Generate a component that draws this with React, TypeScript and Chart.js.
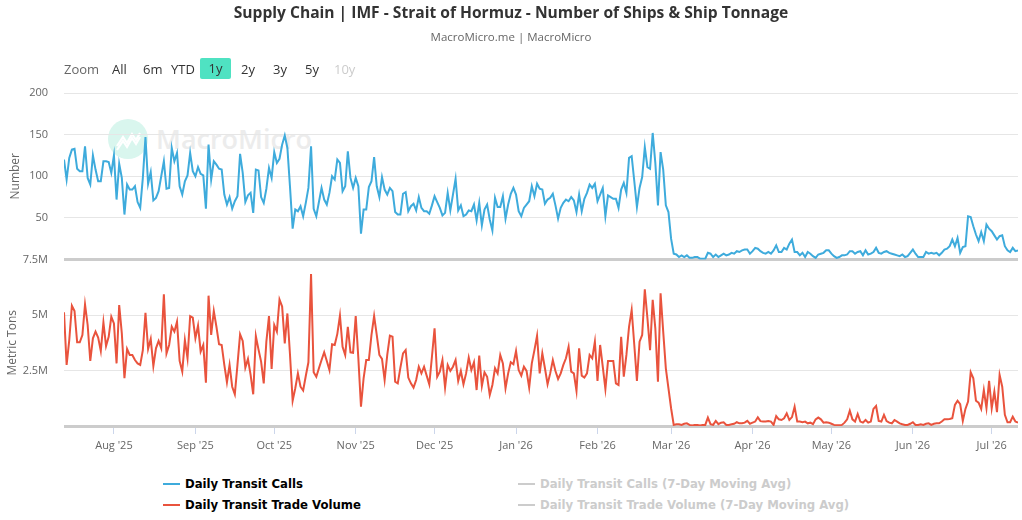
import { useEffect, useRef } from "react";
import { Chart, registerables } from "chart.js";

Chart.register(...registerables);

const START_DATE = "2025-07-13";

const monthStarts = [
  "2025-08-01", "2025-09-01", "2025-10-01", "2025-11-01", "2025-12-01", "2026-01-01",
  "2026-02-01", "2026-03-01", "2026-04-01", "2026-05-01", "2026-06-01", "2026-07-01",
];
const monthLabels = [
  "Aug '25", "Sep '25", "Oct '25", "Nov '25", "Dec '25", "Jan '26",
  "Feb '26", "Mar '26", "Apr '26", "May '26", "Jun '26", "Jul '26",
];

const callsTicks = [0, 50, 100, 150, 200];
const tonsTicks = [0, 2.5, 5, 7.5];

// Daily Transit Calls (number of ships), one value per day from START_DATE
const transitCalls = [
  120, 96, 122, 132, 133, 109, 106, 106, 136, 98,
  90, 125, 108, 94, 94, 118, 118, 117, 104, 125,
  72, 115, 98, 54, 90, 84, 84, 88, 69, 62,
  98, 147, 91, 105, 71, 74, 82, 100, 118, 85,
  86, 134, 118, 128, 88, 78, 94, 101, 128, 106,
  100, 111, 103, 101, 61, 138, 96, 118, 114, 109,
  108, 78, 66, 75, 61, 70, 76, 127, 104, 69,
  77, 80, 56, 108, 107, 75, 68, 85, 110, 98,
  129, 116, 121, 138, 149, 134, 87, 37, 60, 58,
  64, 52, 68, 86, 136, 61, 52, 69, 86, 72,
  66, 80, 100, 96, 120, 116, 82, 88, 130, 98,
  86, 98, 88,
  31, 60, 60, 87, 94, 123, 88, 75, 99, 84,
  78, 86, 82, 57, 54, 54, 79, 81, 58, 64,
  67, 59, 75, 62, 58, 58, 55, 65, 76, 69,
  62, 53, 56, 80, 59, 78, 97, 59, 65, 52,
  54, 59, 58, 66, 47, 68, 41, 60, 66, 48,
  35, 74, 63, 63, 76, 49, 66, 79, 86, 78,
  58, 52, 62, 66, 70, 88, 76, 91, 85, 84,
  67, 72, 74, 79, 65, 49, 62, 68, 72, 70,
  75, 71, 57, 78, 58, 73, 80, 90, 86, 91,
  70, 78, 86, 52, 77, 75, 73, 73, 62, 84,
  92, 80, 122, 124, 94, 63, 86, 99, 135, 111,
  109, 152, 116, 65, 129, 108, 65, 57, 25, 7,
  6, 3, 5, 3, 5, 2, 2, 3, 3, 1,
  1, 1, 8, 7, 3, 6, 3, 5,
  7, 5, 6, 8, 7, 10, 9, 11, 12, 12,
  7, 10, 14, 13, 10, 8, 7, 9, 7, 11,
  17, 9, 9, 14, 12, 19, 24, 9, 9, 5,
  8, 3, 9, 7, 4, 2, 6, 7, 8,
  11, 11, 7, 4, 2, 3, 5, 5, 6, 10,
  10, 7, 9, 10, 5, 11, 6, 7, 9, 14,
  8, 7, 9, 10, 8, 7, 6, 5, 4, 6,
  3, 4, 8, 12, 7, 3, 3, 3, 9, 7,
  8, 7, 8, 5, 8, 12, 13, 16, 24, 16,
  26, 8, 15, 16, 52, 51, 40, 30, 22, 33,
  22, 42, 37, 34, 29, 24, 28, 29, 16, 11,
  9, 14, 10, 11,
];

// Daily Transit Trade Volume, in millions of metric tons
const tradeVolumeM = [
  5.12, 2.75, 3.87, 5.42, 5.18, 3.77, 3.77, 4.1, 5.48, 4.55,
  2.93, 3.95, 4.25, 3.98, 3.38, 4.67, 3.6, 4.02, 4.92, 4.62,
  2.82, 5.45, 4.17, 2.15, 3.47, 3.2, 3.2, 2.97, 2.82, 2.75,
  3.42, 5.1, 3.47, 3.92, 2.7, 3.5, 3.83, 3.5, 5.93, 3.27,
  3.65, 4.47, 4.25, 4.7, 2.93, 2.45, 3.87, 3.05, 4.95, 4.88,
  3.95, 4.52, 3.35, 3.65, 1.95, 5.87, 4.1, 5.18, 4.47, 3.68,
  3.65, 2.75, 1.97, 2.75, 1.77, 1.43, 2.75, 4.13, 3.83, 2.63,
  3.02, 2.3, 1.43, 4.05, 3.45, 2.9, 1.92, 3.8, 4.95, 2.57,
  4.55, 4.25, 5.7, 5.38, 3.72, 5.07, 3.2, 1.14, 1.7, 2.37,
  1.77, 1.6, 2.25, 2.87, 6.85, 2.42, 2.22, 2.6, 2.97, 3.32,
  2.93, 2.52, 3.68, 3.65, 4.15, 4.97, 3.57, 3.2, 4.47, 3.32,
  3.3, 4.95, 3.05,
  0.87, 2.15, 2.97, 2.97, 4.1, 4.95, 4.1, 3.2, 3.02, 2.07,
  3.2, 4.07, 4.02, 2.0, 1.92, 2.63, 3.27, 3.42, 2.18, 1.92,
  1.73, 2.07, 2.67, 2.37, 2.67, 2.27, 1.88, 3.12, 4.4, 2.22,
  2.45, 2.97, 1.73, 2.75, 2.48, 2.67, 2.97, 2.03, 2.48, 1.88,
  2.37, 3.08, 2.52, 2.87, 1.62, 3.17, 1.8, 2.42, 2.22, 1.4,
  1.85, 2.6, 2.37, 3.2, 2.82, 1.7, 2.37, 2.87, 2.78, 3.38,
  2.52, 2.27, 2.67, 2.48, 1.73, 2.82, 3.42, 4.07, 2.37, 3.27,
  2.6, 1.88, 2.37, 2.97, 2.48, 2.12, 2.37, 2.75, 3.05, 3.57,
  2.45, 2.37, 1.58, 3.5, 2.27, 2.18, 2.37, 3.2, 3.05, 3.8,
  2.03, 3.65, 2.67, 1.67, 2.93, 2.93, 2.93, 1.92, 1.85, 4.02,
  2.22, 3.2, 4.47, 5.23, 3.65, 2.03, 3.8, 4.1, 6.16, 4.85,
  3.42, 5.68, 4.4, 2.0, 5.98, 4.25, 2.6, 1.7, 0.8, 0.05,
  0.08, 0.08, 0.05, 0.1, 0.12, 0.05, 0.02, 0.05, 0.05, 0.02,
  0.05, 0.05, 0.38, 0.08, 0.05, 0.23, 0.08, 0.15,
  0.17, 0.05, 0.05, 0.08, 0.1, 0.17, 0.12, 0.12, 0.15, 0.23,
  0.1, 0.15, 0.2, 0.39, 0.22, 0.2, 0.2, 0.22, 0.2, 0.05,
  0.45, 0.3, 0.27, 0.35, 0.57, 0.27, 0.4, 0.87, 0.2, 0.2,
  0.17, 0.2, 0.12, 0.15, 0.08, 0.3, 0.38, 0.3, 0.15,
  0.17, 0.15, 0.1, 0.05, 0.03, 0.03, 0.05, 0.15, 0.3, 0.69,
  0.3, 0.2, 0.54, 0.2, 0.15, 0.27, 0.15, 0.2, 0.77, 0.9,
  0.23, 0.2, 0.5, 0.22, 0.15, 0.12, 0.27, 0.2, 0.12, 0.08,
  0.05, 0.05, 0.1, 0.17, 0.05, 0.05, 0.08, 0.05, 0.1, 0.12,
  0.05, 0.1, 0.12, 0.12, 0.2, 0.3, 0.3, 0.32, 0.35, 0.95,
  1.14, 0.98, 0.23, 0.77, 1.1, 2.42, 2.15, 1.14, 1.05, 0.77,
  1.62, 0.8, 2.03, 0.8, 1.55, 0.62, 2.3, 1.77, 0.5, 0.17,
  0.17, 0.42, 0.2, 0.15,
];

const seriesNames = [
  "Daily Transit Calls",
  "Daily Transit Trade Volume",
  "Daily Transit Calls (7-Day Moving Avg)",
  "Daily Transit Trade Volume (7-Day Moving Avg)",
];

const BLUE = "#3eabdc";
const RED = "#e9533d";
const FONT = "'Open Sans', 'Noto Sans', sans-serif";

const DAY = 86400000;
const startMs = Date.parse(START_DATE);
const monthIdx = monthStarts.map((d) => Math.round((Date.parse(d) - startMs) / DAY));

export default function App() {
  const canvasRef = useRef<HTMLCanvasElement | null>(null);

  useEffect(() => {
    if (!canvasRef.current) return;
    const n = Math.max(transitCalls.length, tradeVolumeM.length);
    const chart = new Chart(canvasRef.current, {
      type: "line",
      data: {
        datasets: [
          {
            label: seriesNames[0],
            data: transitCalls.map((v, i) => ({ x: i, y: v })),
            borderColor: BLUE,
            backgroundColor: BLUE,
            borderWidth: 2,
            pointRadius: 0,
            tension: 0,
            yAxisID: "y",
          },
          {
            label: seriesNames[1],
            data: tradeVolumeM.map((v, i) => ({ x: i, y: v })),
            borderColor: RED,
            backgroundColor: RED,
            borderWidth: 2,
            pointRadius: 0,
            tension: 0,
            yAxisID: "y2",
          },
        ],
      },
      options: {
        animation: false,
        responsive: true,
        maintainAspectRatio: false,
        layout: { padding: { top: 93, right: 4, bottom: 8, left: 0 } },
        plugins: { legend: { display: false }, tooltip: { enabled: false } },
        scales: {
          x: {
            type: "linear",
            min: 0,
            max: n - 1,
            grid: { drawOnChartArea: false, drawTicks: true, tickLength: 8, color: "#ccd6eb" },
            border: { display: false },
            ticks: {
              autoSkip: false,
              maxRotation: 0,
              padding: 5,
              color: "#666666",
              font: { size: 11, family: FONT },
              callback: (_v: any, i: number) => monthLabels[i] ?? "",
            },
            afterBuildTicks: (s: any) => {
              s.ticks = monthIdx.map((v) => ({ value: v }));
            },
            afterFit: (s: any) => {
              s.height = 36;
            },
          },
          y: {
            type: "linear",
            position: "left",
            stack: "panes",
            stackWeight: 1,
            weight: 1,
            min: callsTicks[0],
            max: callsTicks[callsTicks.length - 1],
            afterBuildTicks: (s: any) => {
              s.ticks = callsTicks.map((v) => ({ value: v }));
            },
            ticks: {
              padding: 16,
              color: "#666666",
              font: { size: 11, family: FONT },
              callback: (v: any) => (v === 0 ? "" : String(v)),
            },
            grid: {
              drawTicks: false,
              color: (c: any) => (c.tick && c.tick.value === 0 ? "#cccccc" : "#e6e6e6"),
              lineWidth: (c: any) => (c.tick && c.tick.value === 0 ? 3 : 1),
            },
            border: { display: false },
            title: {
              display: true,
              text: "Number",
              color: "#666666",
              font: { size: 12, family: FONT },
              padding: { top: 8, bottom: 0 },
            },
            afterFit: (s: any) => {
              s.width = 64;
            },
          },
          y2: {
            type: "linear",
            position: "left",
            stack: "panes",
            stackWeight: 1,
            weight: 0,
            min: tonsTicks[0],
            max: tonsTicks[tonsTicks.length - 1],
            afterBuildTicks: (s: any) => {
              s.ticks = tonsTicks.map((v) => ({ value: v }));
            },
            ticks: {
              padding: 16,
              color: "#666666",
              font: { size: 11, family: FONT },
              callback: (v: any) => (v === 0 ? "" : `${v}M`),
            },
            grid: {
              drawTicks: false,
              color: (c: any) => {
                const v = c.tick && c.tick.value;
                if (v === 0) return "#cccccc";
                if (v === tonsTicks[tonsTicks.length - 1]) return "rgba(0,0,0,0)";
                return "#e6e6e6";
              },
              lineWidth: (c: any) => (c.tick && c.tick.value === 0 ? 3 : 1),
            },
            border: { display: false },
            title: {
              display: true,
              text: "Metric Tons",
              color: "#666666",
              font: { size: 12, family: FONT },
              padding: { top: 5, bottom: 0 },
            },
            afterFit: (s: any) => {
              s.width = 64;
            },
          },
        } as any,
      },
    });
    return () => chart.destroy();
  }, []);

  const rangeItems: { t: string; x: number; c: string }[] = [
    { t: "Zoom", x: 64, c: "#666666" },
    { t: "All", x: 112, c: "#333333" },
    { t: "6m", x: 143, c: "#333333" },
    { t: "YTD", x: 171, c: "#333333" },
    { t: "2y", x: 241, c: "#333333" },
    { t: "3y", x: 273, c: "#333333" },
    { t: "5y", x: 305, c: "#333333" },
    { t: "10y", x: 334, c: "#cccccc" },
  ];

  const legendFont = "'DejaVu Sans Condensed', 'Liberation Sans Narrow', sans-serif";
  const legendItems = [
    { t: seriesNames[0], x: 163, y: 484, c: BLUE, tc: "#000000" },
    { t: seriesNames[1], x: 163, y: 505, c: RED, tc: "#000000" },
    { t: seriesNames[2], x: 518, y: 484, c: "#cccccc", tc: "#cccccc" },
    { t: seriesNames[3], x: 518, y: 505, c: "#cccccc", tc: "#cccccc" },
  ];

  return (
    <div
      style={{
        position: "fixed",
        left: 0,
        top: 0,
        width: 1022,
        height: 520,
        background: "#ffffff",
        fontFamily: FONT,
        overflow: "hidden",
      }}
    >
      {/* watermark */}
      <div style={{ position: "absolute", left: 108, top: 119, width: 40, height: 40, borderRadius: 20, background: "#d9f6ee" }}>
        <svg width="40" height="40" viewBox="0 0 40 40">
          <polyline points="9,27 15,18 19,24 24,15 28,21 32,14" fill="none" stroke="#ffffff" strokeWidth="2.2" />
          <polyline points="9,31 15,22 19,28 24,19 28,25 32,18" fill="none" stroke="#ffffff" strokeWidth="2.2" />
        </svg>
      </div>
      <div
        style={{
          position: "absolute",
          left: 156,
          top: 120,
          fontSize: 27,
          fontWeight: 600,
          color: "#ececec",
          lineHeight: "38px",
          whiteSpace: "nowrap",
        }}
      >
        MacroMicro
      </div>

      <div style={{ position: "absolute", left: 0, top: 0, width: 1022, height: 470 }}>
        <canvas ref={canvasRef} />
      </div>

      <div
        style={{
          position: "absolute",
          left: 0,
          top: 2,
          width: 1022,
          textAlign: "center",
          fontSize: 15.6,
          fontWeight: 700,
          color: "#333333",
          lineHeight: "20px",
          whiteSpace: "nowrap",
        }}
      >
        Supply Chain | IMF - Strait of Hormuz - Number of Ships &amp; Ship Tonnage
      </div>
      <div
        style={{
          position: "absolute",
          left: 0,
          top: 29,
          width: 1022,
          textAlign: "center",
          fontSize: 11.5,
          color: "#666666",
          lineHeight: "16px",
          whiteSpace: "nowrap",
        }}
      >
        MacroMicro.me | MacroMicro
      </div>

      {rangeItems.map((r) => (
        <div
          key={r.t}
          style={{ position: "absolute", left: r.x, top: 60, fontSize: 13, lineHeight: "18px", color: r.c, whiteSpace: "nowrap" }}
        >
          {r.t}
        </div>
      ))}
      <div
        style={{
          position: "absolute",
          left: 200,
          top: 58,
          width: 31,
          height: 21,
          background: "#4fe2c2",
          borderRadius: 2,
          textAlign: "center",
          fontSize: 13,
          lineHeight: "21px",
          color: "#333333",
        }}
      >
        1y
      </div>

      {legendItems.map((l) => (
        <div key={l.t}>
          <div style={{ position: "absolute", left: l.x, top: l.y - 1, width: 17, height: 2, background: l.c }} />
          <div
            style={{
              position: "absolute",
              left: l.x + 22,
              top: l.y - 10,
              fontFamily: legendFont,
              fontWeight: 700,
              fontSize: 13,
              lineHeight: "20px",
              color: l.tc,
              whiteSpace: "nowrap",
            }}
          >
            {l.t}
          </div>
        </div>
      ))}
    </div>
  );
}
